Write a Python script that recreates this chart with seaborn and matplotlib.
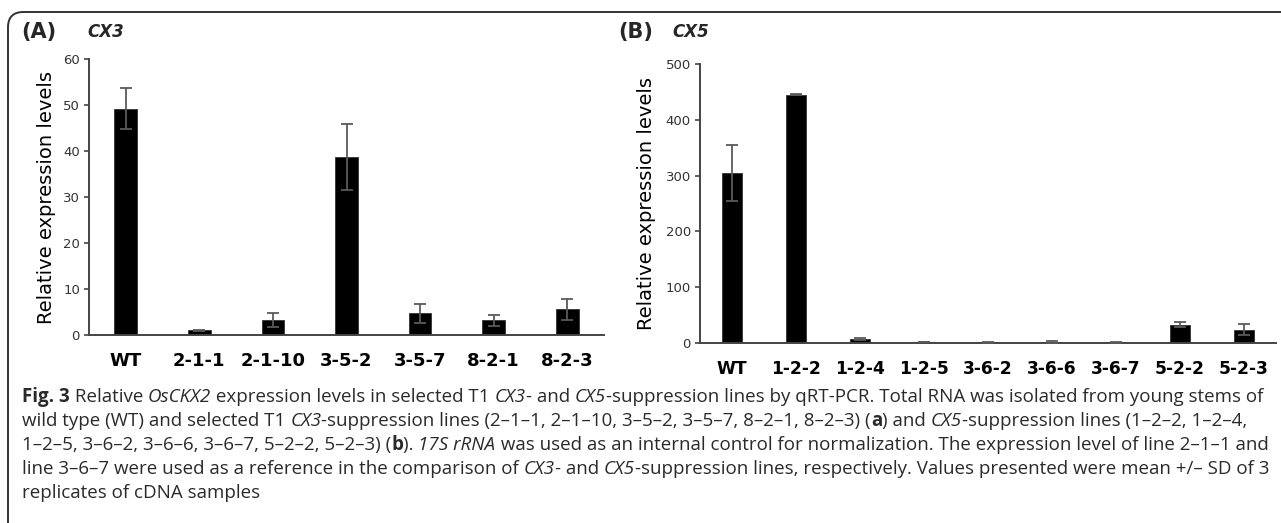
import matplotlib
matplotlib.use("Agg")
import matplotlib.pyplot as plt
import seaborn as sns
import pandas as pd
from matplotlib.patches import FancyBboxPatch
from matplotlib.font_manager import FontProperties

# ---------------- data ----------------
cx3_lines = ["WT", "2-1-1", "2-1-10", "3-5-2", "3-5-7", "8-2-1", "8-2-3"]
cx3_mean = [49.2, 1.0, 3.2, 38.7, 4.7, 3.2, 5.6]
cx3_sd = [4.4, 0.1, 1.5, 7.2, 2.1, 1.2, 2.3]

cx5_lines = ["WT", "1-2-2", "1-2-4", "1-2-5", "3-6-2", "3-6-6", "3-6-7", "5-2-2", "5-2-3"]
cx5_mean = [304, 445, 7, 2, 1, 2, 1, 33, 24]
cx5_sd = [50, 1, 2, 0.5, 0.3, 1.5, 0.2, 5, 10]

cx3_ticks = [0, 10, 20, 30, 40, 50, 60]
cx5_ticks = [0, 100, 200, 300, 400, 500]

sns.set_theme(style="white")
plt.rcParams["font.family"] = ["DejaVu Sans"]

W, H = 1281, 523
fig = plt.figure(figsize=(W / 100, H / 100), dpi=100)

# frame (right and bottom edges run past the picture)
frame = FancyBboxPatch((8 / W, 1 - 540 / H), (1320 - 8) / W, (540 - 12) / H,
                       boxstyle="round,pad=0,rounding_size=0.012",
                       transform=fig.transFigure, fill=False,
                       edgecolor="#333333", linewidth=1.4, mutation_aspect=W / H)
fig.patches.append(frame)

axA = fig.add_axes([89 / W, 1 - 335 / H, (604 - 89) / W, (335 - 59) / H])
axB = fig.add_axes([700 / W, 1 - 343 / H, (1276 - 700) / W, (343 - 64) / H])

spine_col = "#444444"
err_col = "#5a5a5a"


def draw(ax, lines, mean, sd, ticks, xfs):
    df = pd.DataFrame({"line": lines, "value": mean})
    sns.barplot(data=df, x="line", y="value", order=lines, color="black",
                width=0.31, saturation=1, edgecolor="#333333", linewidth=0.6,
                errorbar=None, ax=ax)
    ax.errorbar(range(len(lines)), mean, yerr=sd, fmt="none", ecolor=err_col,
                elinewidth=1.3, capsize=4, capthick=1.3, zorder=5)
    ax.set_ylim(ticks[0], ticks[-1])
    ax.set_yticks(ticks)
    ax.set_yticklabels([str(t) for t in ticks], fontsize=9.5, color="#333333")
    ax.set_xlim(-0.5, len(lines) - 0.5)
    ax.set_xlabel("")
    ax.set_ylabel("Relative expression levels", fontsize=14, color="black")
    for s in ["top", "right"]:
        ax.spines[s].set_visible(False)
    for s in ["left", "bottom"]:
        ax.spines[s].set_color(spine_col)
        ax.spines[s].set_linewidth(1.4)
    ax.tick_params(axis="y", direction="out", length=3.5, width=1.2,
                   color=spine_col, pad=3, left=True)
    ax.tick_params(axis="x", length=0, pad=12)
    for lab in ax.get_xticklabels():
        lab.set_fontproperties(FontProperties(family="DejaVu Sans", weight="bold", size=xfs))
        lab.set_color("black")
    ax.set_facecolor("white")


draw(axA, cx3_lines, cx3_mean, cx3_sd, cx3_ticks, 13)
draw(axB, cx5_lines, cx5_mean, cx5_sd, cx5_ticks, 12.3)
axA.yaxis.set_label_coords((56 - 89) / 515, 0.5)
axB.yaxis.set_label_coords((656 - 700) / 576, 0.5)

# panel titles
fig.text(21 / W, 1 - 32 / H, "(A)", family="DejaVu Sans", weight="bold",
         fontsize=15, va="center", ha="left")
fig.text(87 / W, 1 - 32 / H, "CX3", family="DejaVu Sans", weight="bold",
         style="italic", fontsize=12, va="center", ha="left")
fig.text(618 / W, 1 - 32 / H, "(B)", family="DejaVu Sans", weight="bold",
         fontsize=15, va="center", ha="left")
fig.text(672 / W, 1 - 32 / H, "CX5", family="DejaVu Sans", weight="bold",
         style="italic", fontsize=12, va="center", ha="left")

# ---------------- caption ----------------
cap_lines = [
    [("Fig. 3", "b"), (" Relative ", "n"), ("OsCKX2", "i"),
     (" expression levels in selected T1 ", "n"), ("CX3", "i"), ("- and ", "n"),
     ("CX5", "i"),
     ("-suppression lines by qRT-PCR. Total RNA was isolated from young stems of", "n")],
    [("wild type (WT) and selected T1 ", "n"), ("CX3", "i"),
     ("-suppression lines (2\u20131\u20131, 2\u20131\u201310, 3\u20135\u20132, 3\u20135\u20137, 8\u20132\u20131, 8\u20132\u20133) (", "n"),
     ("a", "b"), (") and ", "n"), ("CX5", "i"),
     ("-suppression lines (1\u20132\u20132, 1\u20132\u20134,", "n")],
    [("1\u20132\u20135, 3\u20136\u20132, 3\u20136\u20136, 3\u20136\u20137, 5\u20132\u20132, 5\u20132\u20133) (", "n"),
     ("b", "b"), ("). ", "n"), ("17S rRNA", "i"),
     (" was used as an internal control for normalization. The expression level of line 2\u20131\u20131 and", "n")],
    [("line 3\u20136\u20137 were used as a reference in the comparison of ", "n"), ("CX3", "i"),
     ("- and ", "n"), ("CX5", "i"),
     ("-suppression lines, respectively. Values presented were mean +/\u2013 SD of 3", "n")],
    [("replicates of cDNA samples", "n")],
]
cap_family = ["Open Sans", "DejaVu Sans"]

renderer = fig.canvas.get_renderer()


def fp(style, size):
    return FontProperties(family=cap_family, size=size,
                          weight="bold" if style == "b" else "normal",
                          style="italic" if style == "i" else "normal")


def seg_width(text, style, size):
    p = fp(style, size)
    w1, _, _ = renderer.get_text_width_height_descent("|" + text + "|", p, ismath=False)
    w0, _, _ = renderer.get_text_width_height_descent("||", p, ismath=False)
    return w1 - w0


base = 10.0
w_line3 = sum(seg_width(t, s, base) for t, s in cap_lines[2])
cap_size = base * (1244.0 / w_line3)

ys = [397, 421, 445, 469, 493]
for line, yy in zip(cap_lines, ys):
    x = 22.0
    for text, style in line:
        fig.text(x / W, 1 - yy / H, text, fontproperties=fp(style, cap_size),
                 color="#2a2a2a", va="center", ha="left")
        x += seg_width(text, style, cap_size)

fig.savefig("out.png", dpi=100, facecolor="white")
